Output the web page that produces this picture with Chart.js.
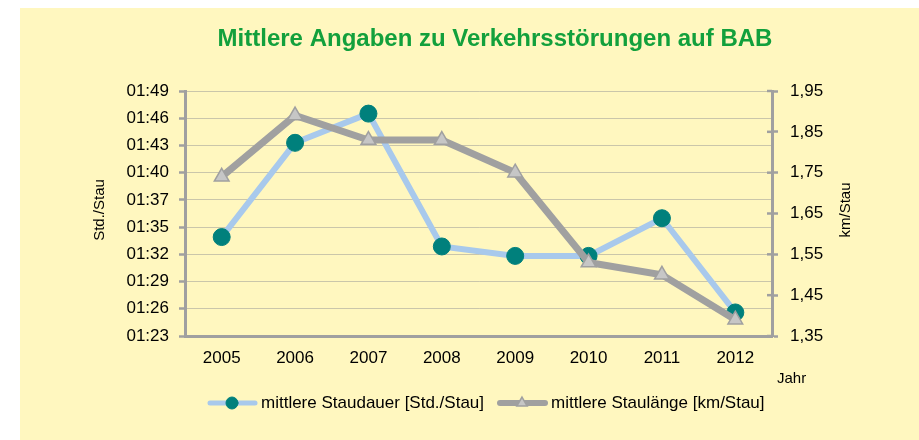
<!DOCTYPE html>
<html>
<head>
<meta charset="utf-8">
<script src="https://cdn.jsdelivr.net/npm/chart.js@4/dist/chart.umd.min.js"></script>
<style>
  html, body { margin: 0; padding: 0; background: #fff; }
  canvas { display: block; }
</style>
</head>
<body>
<canvas id="chart" width="919" height="440"></canvas>
<script>
// Daten
const years = ['2005', '2006', '2007', '2008', '2009', '2010', '2011', '2012'];
// mittlere Staudauer in Minuten
const staudauer = [93.5, 103.5, 106.6, 92.5, 91.5, 91.5, 95.5, 85.5];
// mittlere Staulänge in km
const staulaenge = [1.74, 1.89, 1.83, 1.83, 1.75, 1.53, 1.50, 1.39];

const leftTickLabels = ['01:23', '01:26', '01:29', '01:32', '01:35', '01:37', '01:40', '01:43', '01:46', '01:49'];
const leftMin = 83, leftMax = 109;
const rightTickLabels = ['1,35', '1,45', '1,55', '1,65', '1,75', '1,85', '1,95'];
const rightMin = 1.35, rightMax = 1.95;

const FONT = "'Liberation Sans', Arial, sans-serif";
const AXIS = '#a0a0a0';
const BLUE = '#a8c9ec';
const TEAL = '#00807c';
const TRI = '#c6c6c6';

const evenTicks = (min, max, n) => {
  const out = [];
  for (let i = 0; i < n; i++) out.push({ value: min + (max - min) * i / (n - 1) });
  return out;
};

const deco = {
  id: 'deco',
  beforeDraw(c) {
    const ctx = c.ctx;
    ctx.save();
    ctx.fillStyle = '#ffffff';
    ctx.fillRect(0, 0, c.width, c.height);
    ctx.fillStyle = '#fff7bf';
    ctx.fillRect(20, 8, c.width - 20, c.height - 8);
    ctx.restore();
  },
  afterDraw(c) {
    const ctx = c.ctx;
    ctx.save();
    // Titel
    ctx.fillStyle = '#12a03c';
    ctx.font = 'bold 24px ' + FONT;
    ctx.textAlign = 'center';
    ctx.textBaseline = 'middle';
    ctx.fillText('Mittlere Angaben zu Verkehrsstörungen auf BAB', 495, 39);

    // innere Teilstriche der rechten Achse
    const r = c.scales.y2;
    ctx.strokeStyle = AXIS;
    ctx.lineWidth = 2.5;
    r.ticks.forEach(t => {
      const py = r.getPixelForValue(t.value);
      ctx.beginPath();
      ctx.moveTo(r.left - 5, py);
      ctx.lineTo(r.left, py);
      ctx.stroke();
    });

    // Achsentitel
    ctx.fillStyle = '#000';
    ctx.font = '15px ' + FONT;
    [['Std./Stau', 100], ['km/Stau', 846]].forEach(([t, x]) => {
      ctx.save();
      ctx.translate(x, 210);
      ctx.rotate(-Math.PI / 2);
      ctx.fillText(t, 0, 0);
      ctx.restore();
    });
    ctx.textAlign = 'left';
    ctx.fillText('Jahr', 777, 379);

    // Legende
    const items = [
      { x: 207, ds: c.data.datasets[0] },
      { x: 497, ds: c.data.datasets[1] }
    ];
    const y = 403;
    ctx.font = '17px ' + FONT;
    items.forEach(({ x, ds }) => {
      ctx.strokeStyle = ds.borderColor;
      ctx.lineWidth = ds.borderWidth - 1;
      ctx.lineCap = 'round';
      ctx.beginPath();
      ctx.moveTo(x + 3, y);
      ctx.lineTo(x + 48, y);
      ctx.stroke();
      ctx.fillStyle = ds.pointBackgroundColor;
      ctx.strokeStyle = ds.pointBorderColor;
      ctx.lineWidth = ds.pointBorderWidth;
      Chart.helpers.drawPoint(ctx, { pointStyle: ds.pointStyle, radius: 6, rotation: 0, borderWidth: ds.pointBorderWidth }, x + 25, y);
      ctx.fillStyle = '#000';
      ctx.textAlign = 'left';
      ctx.fillText(ds.label, x + 54, y);
    });
    ctx.restore();
  }
};

new Chart(document.getElementById('chart'), {
  type: 'line',
  data: {
    labels: years,
    datasets: [
      {
        label: 'mittlere Staudauer [Std./Stau]',
        data: staudauer,
        yAxisID: 'y',
        borderColor: BLUE,
        borderWidth: 6,
        pointStyle: 'circle',
        pointRadius: 8.5,
        pointBackgroundColor: TEAL,
        pointBorderColor: TEAL,
        pointBorderWidth: 1,
        tension: 0,
        order: 2
      },
      {
        label: 'mittlere Staulänge [km/Stau]',
        data: staulaenge,
        yAxisID: 'y2',
        borderColor: AXIS,
        borderWidth: 7,
        pointStyle: 'triangle',
        pointRadius: 8.5,
        pointBackgroundColor: TRI,
        pointBorderColor: AXIS,
        pointBorderWidth: 1.5,
        tension: 0,
        order: 1
      }
    ]
  },
  options: {
    responsive: false,
    animation: false,
    devicePixelRatio: 1,
    layout: { padding: { top: 91, bottom: 74, left: 0, right: 0 } },
    plugins: { legend: { display: false }, title: { display: false }, tooltip: { enabled: false } },
    scales: {
      x: {
        offset: true,
        afterFit: (s) => { s.height = 30; },
        grid: { display: true, drawOnChartArea: false, drawTicks: false, offset: true },
        border: { display: true, color: AXIS, width: 3 },
        ticks: { color: '#000', font: { family: FONT, size: 17 }, padding: 12, maxRotation: 0 }
      },
      y: {
        position: 'left',
        min: leftMin,
        max: leftMax,
        afterBuildTicks: (s) => { s.ticks = evenTicks(leftMin, leftMax, leftTickLabels.length); },
        afterFit: (s) => { s.width = 185; },
        grid: {
          color: 'rgba(150,150,150,0.5)',
          borderDash: [2, 2],
          lineWidth: 1,
          tickLength: 6,
          tickColor: AXIS,
          tickWidth: 2.5
        },
        border: { display: true, color: AXIS, width: 3 },
        ticks: {
          autoSkip: false,
          color: '#000',
          font: { family: FONT, size: 17 },
          padding: 10,
          callback: (v, i) => leftTickLabels[i]
        }
      },
      y2: {
        position: 'right',
        min: rightMin,
        max: rightMax,
        afterBuildTicks: (s) => { s.ticks = evenTicks(rightMin, rightMax, rightTickLabels.length); },
        afterFit: (s) => { s.width = 147; },
        grid: {
          drawOnChartArea: false,
          tickLength: 6,
          tickColor: AXIS,
          tickWidth: 2.5
        },
        border: { display: true, color: AXIS, width: 3 },
        ticks: {
          autoSkip: false,
          color: '#000',
          font: { family: FONT, size: 17 },
          padding: 12,
          callback: (v, i) => rightTickLabels[i]
        }
      }
    }
  },
  plugins: [deco]
});
</script>
</body>
</html>
